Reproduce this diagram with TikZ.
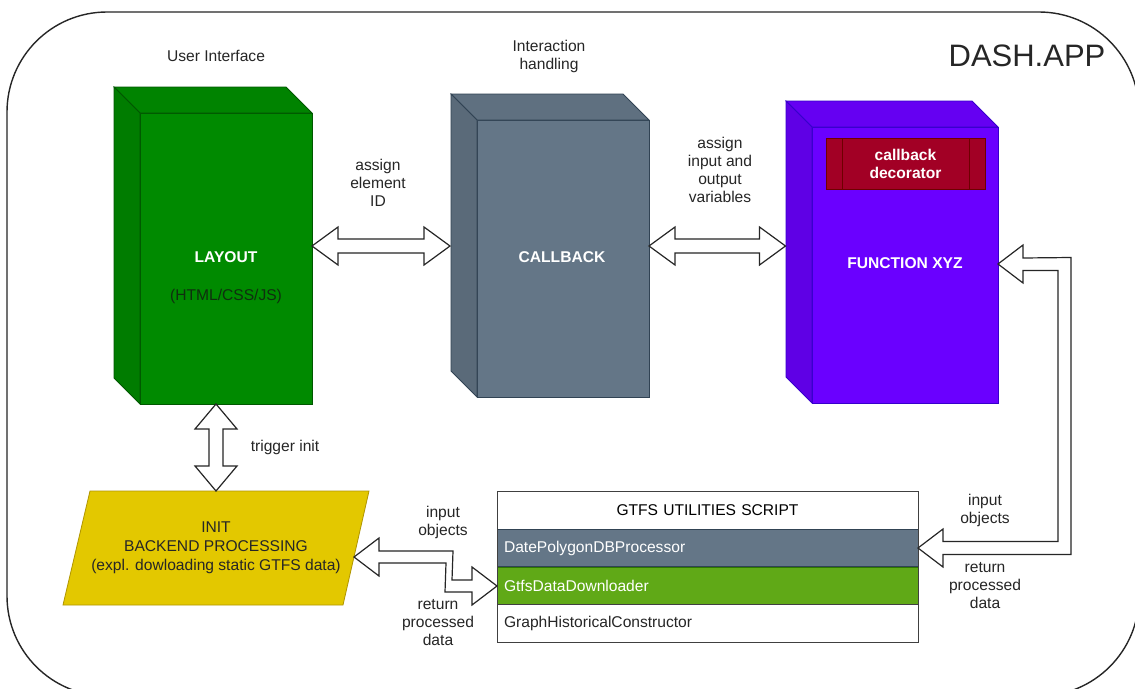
\documentclass[tikz,border=0pt]{standalone}
\usepackage{fontspec}
\setmainfont{Liberation Sans}
\usetikzlibrary{calc}

\definecolor{lgreen}{HTML}{008A00}\definecolor{lgreenD}{HTML}{005700}
\definecolor{cgray}{HTML}{647687}\definecolor{cgrayD}{HTML}{314354}
\definecolor{fpurp}{HTML}{6A00FF}\definecolor{fpurpD}{HTML}{3700CC}
\definecolor{dred}{HTML}{A20025}\definecolor{dredD}{HTML}{6F0000}
\definecolor{iyel}{HTML}{E3C800}\definecolor{iyelD}{HTML}{B09500}
\definecolor{tgreen}{HTML}{60A917}\definecolor{tgreenD}{HTML}{2D7600}
\definecolor{txt}{HTML}{262626}
\definecolor{htmltxt}{HTML}{0F2F0F}

\tikzset{
  lbl/.style={font=\fontsize{15.6}{18}\selectfont, text=txt, align=center, inner sep=0pt},
  wlbl/.style={font=\fontsize{15.6}{18}\selectfont\bfseries, text=white, align=center, inner sep=0pt},
  front/.style={draw=#1, line width=0.8pt, inner sep=0pt, outer sep=0pt},
  blockarrow/.style={draw=black!85, fill=white, line width=1.2pt, line join=miter},
  tablerow/.style={draw=#1, line width=0.9pt, minimum width=421pt, minimum height=37.5pt,
    inner sep=0pt, outer sep=0pt, text width=407pt, align=left,
    font=\fontsize{15.6}{18}\selectfont},
}

% cube side faces: #1 node, #2 fill, #3 stroke, #4 depth
\newcommand\cubefaces[4]{%
  \filldraw[fill=#2!95!black, draw=#3, line width=0.8pt, line join=miter]
    (#1.north west) -- ++(-#4,-#4) -- ($(#1.north east)+(-#4,-#4)$) -- (#1.north east) -- cycle;
  \filldraw[fill=#2!90!black, draw=#3, line width=0.8pt, line join=miter]
    (#1.north west) -- ++(-#4,-#4) -- ($(#1.south west)+(-#4,-#4)$) -- (#1.south west) -- cycle;
}
% horizontal double block arrow: #1 left tip, #2 right tip
\newcommand\hdbl[2]{%
  \draw[blockarrow] (#1) -- ++(26,-19) -- ++(0,12) -- ($(#2)+(-26,-7)$) -- ++(0,-12) -- (#2)
    -- ++(-26,19) -- ++(0,-12) -- ($(#1)+(26,7)$) -- ++(0,12) -- cycle;}
% vertical double block arrow: #1 top tip, #2 bottom tip
\newcommand\vdbl[2]{%
  \draw[blockarrow] (#1) -- ++(21,25) -- ++(-14,0) -- ($(#2)+(7,-25)$) -- ++(14,0) -- (#2)
    -- ++(-21,-25) -- ++(14,0) -- ($(#1)+(-7,25)$) -- ++(-14,0) -- cycle;}

\begin{document}
\begin{tikzpicture}[x=1pt,y=-1pt]
\useasboundingbox (0,0) rectangle (1135,688);
\fill[white] (0,0) rectangle (1135,688);

% outer app frame
\draw[line width=1.4pt, draw=black!85, rounded corners=100pt] (7,12) rectangle (1139,696);
\node[font=\fontsize{31}{34}\selectfont, text=txt, inner sep=0pt] (dash) at (1027,56) {DASH.APP};

% section titles
\node[lbl] (ui) at (216,56) {User Interface};
\node[lbl] (ih) at (549,56.5) {Interaction\\handling};

% LAYOUT cube
\node[front=lgreenD, fill=lgreen, minimum width=172pt, minimum height=291pt] (layout) at (226,258.5) {};
\cubefaces{layout}{lgreen}{lgreenD}{26}
\node[wlbl] (layoutT) at (226,257) {LAYOUT};
\node[lbl, text=htmltxt] (htmlT) at (226,296) {(HTML/CSS/JS)};

% CALLBACK cube
\node[front=cgrayD, fill=cgray, minimum width=172pt, minimum height=277pt] (callback) at (563,258.5) {};
\cubefaces{callback}{cgray}{cgrayD}{26}
\node[wlbl] (callbackT) at (562,257) {CALLBACK};

% FUNCTION XYZ cube
\node[front=fpurpD, fill=fpurp, minimum width=186pt, minimum height=276pt] (function) at (905,265) {};
\cubefaces{function}{fpurp}{fpurpD}{26}
\node[wlbl] (functionT) at (905,263) {FUNCTION XYZ};
\node[front=dredD, fill=dred, minimum width=159pt, minimum height=51pt] (deco) at (905.5,163.5) {};
\draw[dredD, line width=0.8pt] ($(deco.north west)+(16,0)$) -- ($(deco.south west)+(16,0)$)
  ($(deco.north east)+(-16,0)$) -- ($(deco.south east)+(-16,0)$);
\node[wlbl] (decoT) at (deco.center) {callback\\decorator};

% INIT parallelogram
\node[minimum width=280pt, minimum height=114pt, inner sep=0pt, outer sep=0pt] (init) at (216,548) {};
\filldraw[fill=iyel, draw=iyelD, line width=0.8pt]
  ($(init.center)+(-126,-57)$) -- ($(init.center)+(153,-57)$) -- ($(init.center)+(127,57)$)
  -- ($(init.center)+(-153,57)$) -- cycle;
\node[lbl, text=black!85, font=\fontsize{15.6}{19}\selectfont] (initT) at (216,547.5)
  {INIT\\BACKEND PROCESSING\\(expl. dowloading static GTFS data)};

% GTFS utilities table
\node[tablerow=black!75, fill=white, align=center] (thead) at (707.5,510.5) {GTFS UTILITIES SCRIPT};
\node[tablerow=cgrayD, fill=cgray, text=white] (date) at (707.5,548) {DatePolygonDBProcessor};
\node[tablerow=tgreenD, fill=tgreen, text=white] (gtfs) at (707.5,586) {GtfsDataDownloader};
\node[tablerow=black!75, fill=white, text=txt] (graph) at (707.5,623.5) {GraphHistoricalConstructor};
\draw[black!75, line width=0.9pt] (thead.north west) rectangle (graph.south east);

% connectors
\coordinate (a1L) at ($(layout.north east)+(0,133)$);
\coordinate (a1R) at ($(callback.north west)+(-27,126)$);
\hdbl{a1L}{a1R}
\coordinate (a2L) at ($(callback.north east)+(0,126)$);
\coordinate (a2R) at ($(function.north west)+(-26.5,119)$);
\hdbl{a2L}{a2R}
\coordinate (vT) at (init.north |- layout.south);
\vdbl{vT}{init.north}

% FUNCTION <-> DatePolygonDBProcessor
\coordinate (fR) at ($(function.east)+(0,-1)$);
\coordinate (dR) at (date.east);
\draw[blockarrow] (fR) -- ++(25,-19) -- ++(0,13) -- ($(fR)+(73,-6.5)$) -- ($(dR)+(153,6.5)$)
  -- ($(dR)+(25,6.5)$) -- ++(0,12.5) -- (dR) -- ++(25,-19) -- ++(0,12.5)
  -- ($(dR)+(140,-6.5)$) -- ($(fR)+(60,6.5)$) -- ($(fR)+(25,6.5)$) -- ++(0,12.5) -- cycle;

% INIT <-> GtfsDataDownloader
\coordinate (iR) at ($(init.center)+(138,9)$);
\coordinate (gL) at (gtfs.west);
\draw[blockarrow] (iR) -- ++(25,-19) -- ++(0,13) -- ($(iR)+(99,-6)$) -- ($(gL)+(-45,-6)$)
  -- ($(gL)+(-25,-6)$) -- ++(0,-13) -- (gL) -- ++(-25,19) -- ++(0,-13)
  -- ($(gL)+(-52,6)$) -- ($(iR)+(92,6)$) -- ($(iR)+(25,6)$) -- ++(0,13) -- cycle;

% connector labels
\node[lbl] (lab1) at (378,183) {assign\\element\\ID};
\node[lbl] (lab2) at (720,170) {assign\\input and\\output\\variables};
\node[lbl] (trig) at (285,447) {trigger init};
\node[lbl] (in1) at (443,522.5) {input\\objects};
\node[lbl] (ret1) at (438,623) {return\\processed\\data};
\node[lbl] (in2) at (985,510.5) {input\\objects};
\node[lbl] (ret2) at (985,586) {return\\processed\\data};
\end{tikzpicture}
\end{document}
